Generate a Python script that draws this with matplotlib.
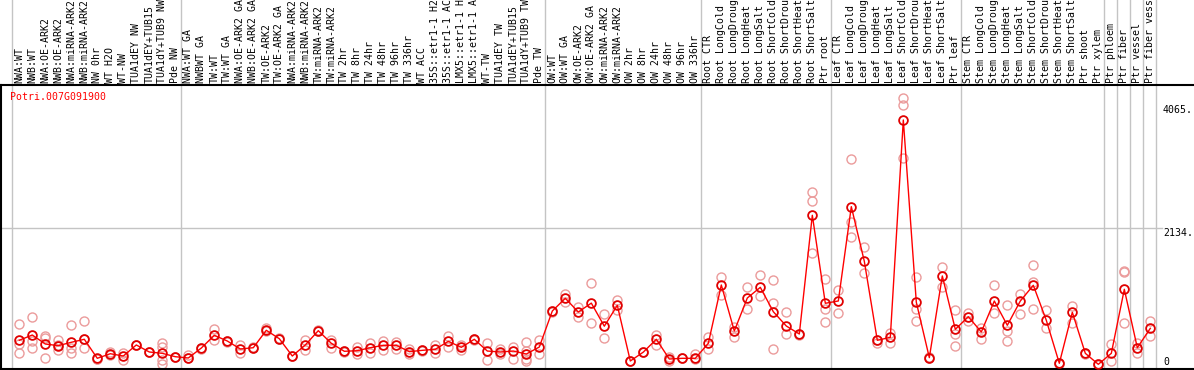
import matplotlib
matplotlib.use("Agg")
import matplotlib.pyplot as plt
import numpy as np

# gene shown in the panel
gene = "Potri.007G091900"

# sample labels (as displayed, cut to 14 chars)
labels = [
    "NWA:WT", "NWB:WT", "NWA:OE-ARK2", "NWB:OE-ARK2", "NWA:miRNA-ARK2", "NWB:miRNA-ARK2",
    "NW 0hr", "WT H2O", "WT-NW", "TUA1dEY NW", "TUA1dEY+TUB15", "TUA1dY+TUB9 NW", "Pde NW",
    "NWA:WT GA", "NWBWT GA", "TW:WT", "TW:WT GA", "NWA:OE-ARK2 GA", "NWB:OE-ARK2 GA",
    "TW:OE-ARK2", "TW:OE-ARK2 GA", "NWA:miRNA-ARK2", "NWB:miRNA-ARK2", "TW:miRNA-ARK2",
    "TW:miRNA-ARK2", "TW 2hr", "TW 8hr", "TW 24hr", "TW 48hr", "TW 96hr", "TW 336hr",
    "WT ACC", "35S::etr1-1 H2", "35S::etr1-1 AC", "LMX5::etr1-1 H", "LMX5::etr1-1 A",
    "WT-TW", "TUA1dEY TW", "TUA1dEY+TUB15", "TUA1dY+TUB9 TW", "Pde TW",
    "OW:WT", "OW:WT GA", "OW:OE-ARK2", "OW:OE-ARK2 GA", "OW:miRNA-ARK2", "OW:miRNA-ARK2",
    "OW 2hr", "OW 8hr", "OW 24hr", "OW 48hr", "OW 96hr", "OW 336hr",
    "Root CTR", "Root LongCold", "Root LongDroug", "Root LongHeat", "Root LongSalt",
    "Root ShortCold", "Root ShortDrou", "Root ShortHeat", "Root ShortSalt", "Ptr root",
    "Leaf CTR", "Leaf LongCold", "Leaf LongDroug", "Leaf LongHeat", "Leaf LongSalt",
    "Leaf ShortCold", "Leaf ShortDrou", "Leaf ShortHeat", "Leaf ShortSalt", "Ptr leaf",
    "Stem CTR", "Stem LongCold", "Stem LongDroug", "Stem LongHeat", "Stem LongSalt",
    "Stem ShortCold", "Stem ShortDrou", "Stem ShortHeat", "Stem ShortSalt",
    "Ptr shoot", "Ptr xylem", "Ptr phloem", "Ptr fiber", "Ptr vessel", "Ptr fiber vess",
]

# mean expression per sample
means = [
    380, 462, 321, 295, 348, 395, 97, 169, 133, 306, 196, 175, 122,
    102, 258, 457, 368, 243, 263, 536, 404, 133, 306, 530, 332, 207, 216, 263,
    301, 301, 201, 222, 238, 363, 269, 395, 211, 196, 211, 164, 274,
    838, 1037, 822, 962, 600, 927, 55, 194, 395, 86, 97, 97,
    332, 1246, 525, 1042, 1209, 827, 603, 478, 2338, 959,
    995, 2473, 1617, 379, 426, 3831, 975, 107, 1387, 551,
    749, 509, 995, 614, 995, 1241, 692, 19, 818, 175, 3, 175, 1178, 263, 567,
]

# replicate values per sample
reps = [
    [630, 317, 175], [749, 368, 263], [447, 410, 97], [384, 227, 300], [619, 254, 175],
    [686, 263, 400], [90, 81], [201, 149], [185, 66], [300, 312], [190, 200],
    [342, 279, 71, 8], [120, 125],
    [149, 95], [250, 265], [551, 384], [360, 375], [301, 175], [255, 270], [577, 530],
    [400, 410], [130, 140], [384, 227], [525, 535], [384, 254], [200, 212], [279, 164],
    [332, 185], [368, 227], [352, 238], [238, 164], [215, 228], [301, 175], [447, 269],
    [306, 227], [390, 400], [342, 71], [248, 164], [279, 81], [352, 216, 81, 60], [384, 164],
    [830, 845], [1105, 979], [906, 740], [1272, 646], [789, 410], [1011, 854], [50, 60],
    [190, 200], [462, 306], [110, 60], [100, 95], [164, 90],
    [436, 238], [1366, 1089], [592, 436], [1209, 870], [1398, 1073], [1324, 959, 238],
    [827, 478], [470, 485], [2698, 2557, 1742], [1335, 870, 671],
    [1167, 802], [3215, 2238, 2003], [1837, 1429], [342, 390], [499, 342],
    [4171, 4066, 3241], [1366, 865, 682], [100, 115], [1523, 1219], [854, 478, 295],
    [802, 687], [567, 404], [1241, 812], [928, 530, 373], [1105, 787], [1554, 1298, 865],
    [854, 567], [15, 25], [917, 646], [170, 180], [0, 5], [321, 55], [1454, 1470, 646],
    [332, 175], [682, 451],
]

# first sample index of each group (gray separators)
group_starts = [0, 13, 41, 53, 63, 73, 84, 85, 86, 87, 88]

ytick_vals = [0, 2134, 4065]
ytick_text = ["0", "2134.", "4065."]

mono = "DejaVu Sans Mono"
W, H = 1194, 370
fig = plt.figure(figsize=(W / 100, H / 100), dpi=100)
ax = fig.add_axes([1 / W, 1 / H, 1193 / W, 284 / H])
ax.set_xlim(-1.408, 90.36)
ax.set_ylim(-70.5, 4379)

# separators run up through the label area
for g in group_starts:
    ax.axvline(g - 0.6, ymin=0, ymax=369 / 284, color="#c4c4c4", lw=1.0,
               clip_on=False, zorder=0)
ax.axhline(2134, xmin=0, xmax=1161 / 1193, color="#c4c4c4", lw=1.0, zorder=0)

x = np.arange(len(means))
for i, r in enumerate(reps):
    ax.plot([i] * len(r), r, "o", mfc="none", mec="#eb9b9b", ms=6.5, mew=1.0, zorder=2)
ax.plot(x, means, "-", color="red", lw=1.0, zorder=3)
ax.plot(x, means, "o", mfc="none", mec="#e00000", ms=6.3, mew=1.3, zorder=4)

for side in ["left", "top", "bottom"]:
    ax.spines[side].set_linewidth(1.5)
    ax.spines[side].set_color("black")
ax.spines["right"].set_visible(False)

ax.xaxis.tick_top()
ax.set_xticks(x)
ax.set_xticklabels(labels, rotation=90, family=mono, fontsize=7.1)
ax.tick_params(axis="x", length=0, pad=1.5)

ax.yaxis.tick_right()
ax.set_yticks(ytick_vals)
ax.set_yticklabels(ytick_text, family=mono, fontsize=7.1)
ax.tick_params(axis="y", length=0, pad=-22.3)
for lab, va in zip(ax.get_yticklabels(), ["baseline", "top", "top"]):
    lab.set_va(va)

ax.text(9 / 1193, 272 / 284, gene, transform=ax.transAxes, color="red",
        family=mono, fontsize=7.1, ha="left", va="center")

fig.savefig("out.png", dpi=100)
